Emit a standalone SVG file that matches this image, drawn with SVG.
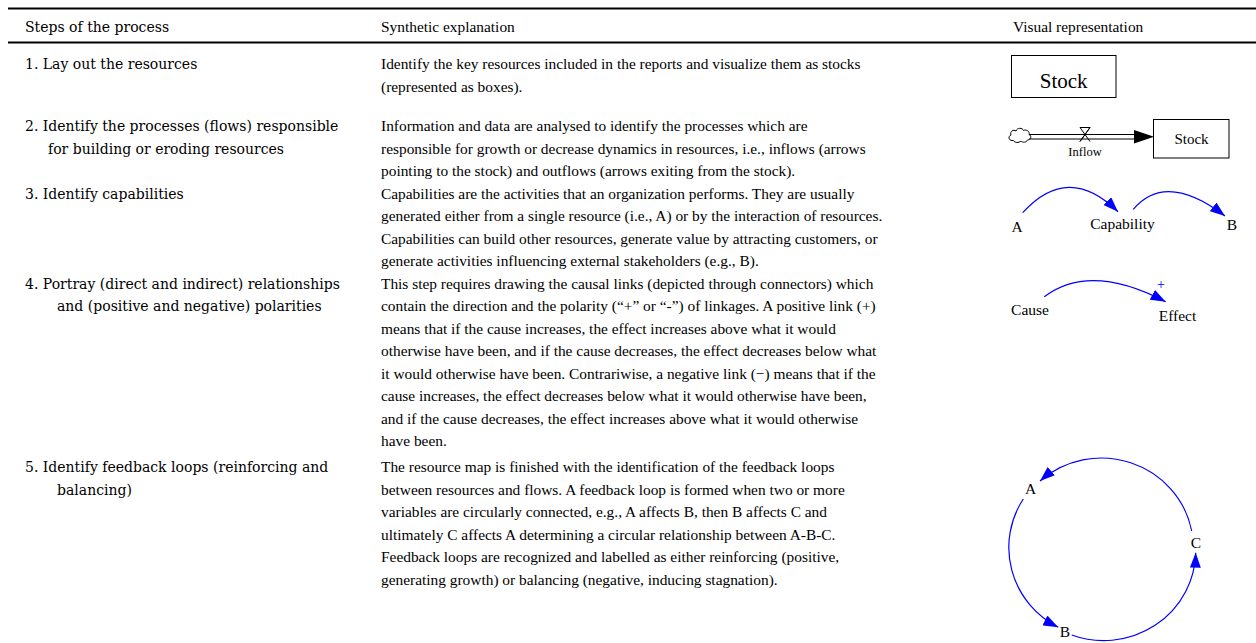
<svg xmlns="http://www.w3.org/2000/svg" width="1256" height="643" viewBox="0 0 1256 643">
  <style>
    .step { font-family: "DejaVu Serif", "Liberation Serif", serif; font-size: 14px; fill: #000; }
    .expl { font-family: "Liberation Serif", "Times New Roman", serif; font-size: 15.4px; fill: #000; }
    .lbl { font-family: "Liberation Serif", "Times New Roman", serif; font-size: 15.5px; fill: #000; text-anchor: middle; }
    .rule { stroke: #000; }
    .box { fill: #fff; stroke: #000; stroke-width: 1; }
    .link { fill: none; stroke: #0000ff; stroke-width: 1.2; marker-end: url(#arrowBlue); }
    .pipe { stroke: #000; stroke-width: 1; }
  </style>
  <defs>
    <marker id="arrowBlue" viewBox="0 0 15 11" refX="15" refY="5.5" markerWidth="15" markerHeight="11" markerUnits="userSpaceOnUse" orient="auto">
      <path d="M0,0 L15,5.5 L0,11 Z" fill="#0000ff"/>
    </marker>
  </defs>
  <rect width="1256" height="643" fill="#fff"/>

  <!-- table rules -->
  <line class="rule" x1="8" y1="8.5" x2="1256" y2="8.5" stroke-width="2.2"/>
  <line class="rule" x1="8" y1="42.5" x2="1256" y2="42.5" stroke-width="1.8"/>

  <!-- header -->
  <g id="header">
    <text class="step" x="25" y="31.5">Steps of the process</text>
    <text class="expl" x="381" y="31.5">Synthetic explanation</text>
    <text class="expl" x="1013" y="31.5">Visual representation</text>
  </g>

  <!-- column 1: steps -->
  <g id="steps">
    <text class="step" x="25" y="69">1. Lay out the resources</text>
    <text class="step" x="25" y="131">2. Identify the processes (flows) responsible</text>
    <text class="step" x="48" y="153.5">for building or eroding resources</text>
    <text class="step" x="25" y="198.5">3. Identify capabilities</text>
    <text class="step" x="25" y="288.5">4. Portray (direct and indirect) relationships</text>
    <text class="step" x="57" y="311">and (positive and negative) polarities</text>
    <text class="step" x="25" y="472">5. Identify feedback loops (reinforcing and</text>
    <text class="step" x="57" y="494.5">balancing)</text>
  </g>

  <!-- column 2: explanations -->
  <g id="explanations">
    <text class="expl" x="381" y="69">Identify the key resources included in the reports and visualize them as stocks</text>
    <text class="expl" x="381" y="91.5">(represented as boxes).</text>

    <text class="expl" x="381" y="131">Information and data are analysed to identify the processes which are</text>
    <text class="expl" x="381" y="153.5">responsible for growth or decrease dynamics in resources, i.e., inflows (arrows</text>
    <text class="expl" x="381" y="176">pointing to the stock) and outflows (arrows exiting from the stock).</text>

    <text class="expl" x="381" y="198.5">Capabilities are the activities that an organization performs. They are usually</text>
    <text class="expl" x="381" y="221">generated either from a single resource (i.e., A) or by the interaction of resources.</text>
    <text class="expl" x="381" y="243.5">Capabilities can build other resources, generate value by attracting customers, or</text>
    <text class="expl" x="381" y="266">generate activities influencing external stakeholders (e.g., B).</text>

    <text class="expl" x="381" y="288.5">This step requires drawing the causal links (depicted through connectors) which</text>
    <text class="expl" x="381" y="311">contain the direction and the polarity (“+” or “-”) of linkages. A positive link (+)</text>
    <text class="expl" x="381" y="333.5">means that if the cause increases, the effect increases above what it would</text>
    <text class="expl" x="381" y="356">otherwise have been, and if the cause decreases, the effect decreases below what</text>
    <text class="expl" x="381" y="378.5">it would otherwise have been. Contrariwise, a negative link (−) means that if the</text>
    <text class="expl" x="381" y="401">cause increases, the effect decreases below what it would otherwise have been,</text>
    <text class="expl" x="381" y="423.5">and if the cause decreases, the effect increases above what it would otherwise</text>
    <text class="expl" x="381" y="446">have been.</text>

    <text class="expl" x="381" y="472">The resource map is finished with the identification of the feedback loops</text>
    <text class="expl" x="381" y="494.5">between resources and flows. A feedback loop is formed when two or more</text>
    <text class="expl" x="381" y="517">variables are circularly connected, e.g., A affects B, then B affects C and</text>
    <text class="expl" x="381" y="539.5">ultimately C affects A determining a circular relationship between A-B-C.</text>
    <text class="expl" x="381" y="562">Feedback loops are recognized and labelled as either reinforcing (positive,</text>
    <text class="expl" x="381" y="584.5">generating growth) or balancing (negative, inducing stagnation).</text>
  </g>

  <!-- column 3: visual nodes -->
  <g id="stock-large">
    <rect class="box" x="1011.5" y="55.5" width="104.5" height="42"/>
    <text class="lbl" x="1063.7" y="88" style="font-size:21px">Stock</text>
  </g>

  <g id="cloud-source">
    <path d="M1012,140.5 c-3.5,0 -4,-4.5 -1,-5.5 c-1.5,-3.5 2.5,-6 5,-4 c1,-3.5 6.5,-3.5 7.5,-0.5 c3,-1.5 6.5,1 5.5,4 c3,1 2,5.5 -1.5,5.5 c-1,2.5 -5,3 -6.5,1 c-2,2 -6.5,2 -7.5,-0.5 c-0.5,0 -1,0 -1.5,0 Z" fill="#fff" stroke="#000" stroke-width="1"/>
  </g>

  <g id="inflow-valve">
    <path d="M1080,127.5 L1090,127.5 L1080,141.5 M1090,127.5 L1080,141.5 M1080,127.5 L1090,141.5" fill="none" stroke="#000" stroke-width="1"/>
    <text class="lbl" x="1085" y="156" style="font-size:12.5px">Inflow</text>
  </g>

  <g id="stock-small">
    <rect class="box" x="1153.5" y="119.5" width="75.5" height="38.5"/>
    <text class="lbl" x="1191.5" y="144" style="font-size:15px">Stock</text>
  </g>

  <g id="cap-A"><text class="lbl" x="1017" y="231.5">A</text></g>
  <g id="cap-capability"><text class="lbl" x="1122.5" y="228.5">Capability</text></g>
  <g id="cap-B"><text class="lbl" x="1232" y="230">B</text></g>

  <g id="cause"><text class="lbl" x="1030" y="315">Cause</text></g>
  <g id="effect"><text class="lbl" x="1177.5" y="321">Effect</text></g>

  <g id="loop-A"><text class="lbl" x="1030.5" y="493.5">A</text></g>
  <g id="loop-B"><text class="lbl" x="1065" y="637">B</text></g>
  <g id="loop-C"><text class="lbl" x="1196" y="547.5">C</text></g>

  <!-- connectors -->
  <g id="connectors">
    <!-- flow pipe into the stock -->
    <line class="pipe" x1="1029" y1="134.5" x2="1140" y2="134.5"/>
    <line class="pipe" x1="1029" y1="139" x2="1140" y2="139"/>
    <polygon points="1134,130 1154,136.7 1134,143.4" fill="#000"/>

    <!-- capability links -->
    <path class="link" d="M1022.7,212.7 Q1068,162.4 1118,211.7"/>
    <path class="link" d="M1133.3,209.3 Q1166,170.8 1225,216"/>

    <!-- causal link with polarity -->
    <path class="link" d="M1044.3,296.7 Q1090,262.2 1165.7,301.7"/>
    <text x="1161" y="288.5" text-anchor="middle" font-family="Liberation Serif, serif" font-size="14" fill="#0000ff">+</text>

    <!-- feedback loop -->
    <path class="link" d="M1191.7,531 A92,90 0 0 0 1040,481"/>
    <path class="link" d="M1023.3,499 A92,90 0 0 0 1058.3,627.3"/>
    <path class="link" d="M1071.7,635 A92,90 0 0 0 1195.7,552.7"/>
  </g>
</svg>
